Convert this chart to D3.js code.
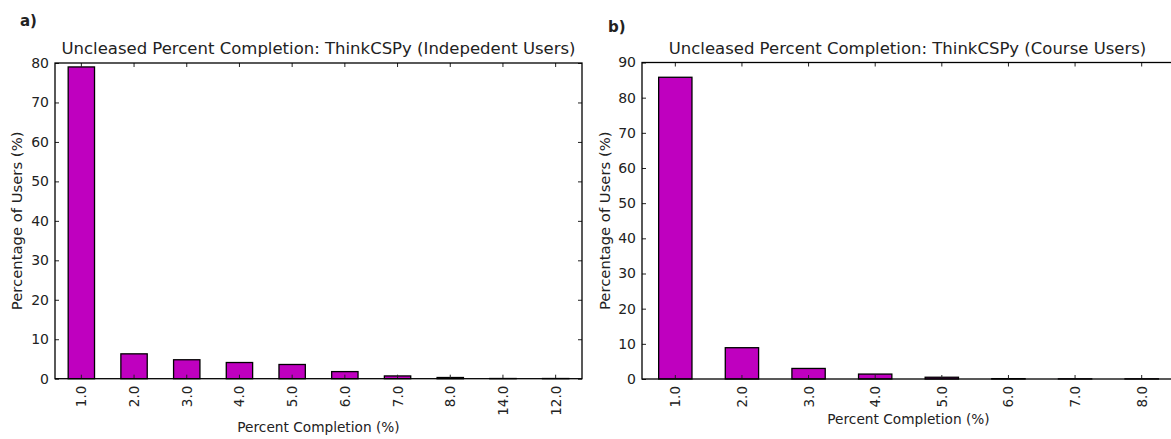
<!DOCTYPE html>
<html>
<head>
<meta charset="utf-8">
<script src="https://cdn.jsdelivr.net/npm/d3@7"></script>
<style>
  html, body { margin: 0; padding: 0; background: #fff; }
  svg { display: block; }
  text { font-family: "DejaVu Sans", sans-serif; fill: #222; }
</style>
</head>
<body>
<svg id="chart" width="1171" height="439"></svg>
<script>
// Independent users: share of users (%) per completion bucket
const indepCategories = ["1.0", "2.0", "3.0", "4.0", "5.0", "6.0", "7.0", "8.0", "14.0", "12.0"];
const indepValues = [79.0, 6.3, 4.8, 4.1, 3.6, 1.8, 0.7, 0.3, 0.05, 0.05];
const indepYTicks = [0, 10, 20, 30, 40, 50, 60, 70, 80];

// Course users: share of users (%) per completion bucket
const courseCategories = ["1.0", "2.0", "3.0", "4.0", "5.0", "6.0", "7.0", "8.0"];
const courseValues = [85.8, 8.9, 3.0, 1.4, 0.5, 0.1, 0.05, 0.05];
const courseYTicks = [0, 10, 20, 30, 40, 50, 60, 70, 80, 90];

const titles = [
  "Uncleased Percent Completion: ThinkCSPy (Indepedent Users)",
  "Uncleased Percent Completion: ThinkCSPy (Course Users)"
];
const panelTags = ["a)", "b)"];
const xLabel = "Percent Completion (%)";
const yLabel = "Percentage of Users (%)";

const svg = d3.select("#chart");

const panels = [
  { tag: panelTags[0], title: titles[0], cats: indepCategories, vals: indepValues, ticks: indepYTicks,
    box: { left: 55, right: 582, top: 63, bottom: 378.7 }, tagPos: [20, 26], xLabelY: 432, yLabelX: 22, titleShift: 0 },
  { tag: panelTags[1], title: titles[1], cats: courseCategories, vals: courseValues, ticks: courseYTicks,
    box: { left: 642, right: 1175, top: 62.5, bottom: 379 }, tagPos: [608, 32], xLabelY: 424, yLabelX: 610, titleShift: -1 }
];

const barColor = "#bf00bf";
const tickLen = 4;

panels.forEach(p => {
  const b = p.box;
  const g = svg.append("g");

  const x = d3.scaleBand()
    .domain(p.cats)
    .range([b.left, b.right])
    .paddingInner(0.5)
    .paddingOuter(0.25);

  const y = d3.scaleLinear()
    .domain([0, d3.max(p.ticks)])
    .range([b.bottom, b.top]);

  // bars
  g.selectAll("rect.bar")
    .data(p.vals)
    .join("rect")
    .attr("class", "bar")
    .attr("x", (d, i) => x(p.cats[i]))
    .attr("width", x.bandwidth())
    .attr("y", d => y(d))
    .attr("height", d => y(0) - y(d))
    .attr("fill", barColor)
    .attr("stroke", "#000")
    .attr("stroke-width", 1.3);

  // bottom axis with inward ticks, rotated labels
  const xAxis = d3.axisBottom(x).tickSize(-tickLen);
  const gx = g.append("g").attr("transform", `translate(0,${b.bottom})`).call(xAxis);
  gx.select(".domain").remove();
  gx.selectAll(".tick line").attr("stroke", "#222");
  gx.selectAll(".tick text")
    .attr("font-size", 13.5)
    .attr("font-family", "DejaVu Sans")
    .attr("fill", "#222")
    .attr("text-anchor", "end")
    .attr("dy", null)
    .attr("y", null)
    .attr("dominant-baseline", "central")
    .attr("transform", "translate(0,7) rotate(-90)");

  // top axis ticks (no labels)
  const gxt = g.append("g").attr("transform", `translate(0,${b.top})`)
    .call(d3.axisTop(x).tickSize(-tickLen).tickFormat(""));
  gxt.select(".domain").remove();
  gxt.selectAll(".tick line").attr("stroke", "#222");

  // left axis
  const gy = g.append("g").attr("transform", `translate(${b.left},0)`)
    .call(d3.axisLeft(y).tickValues(p.ticks).tickSize(-tickLen).tickPadding(6).tickFormat(d3.format("d")));
  gy.select(".domain").remove();
  gy.selectAll(".tick line").attr("stroke", "#222");
  gy.selectAll(".tick text").attr("font-size", 14).attr("font-family", "DejaVu Sans").attr("fill", "#222");

  // right axis ticks (no labels)
  const gyr = g.append("g").attr("transform", `translate(${b.right},0)`)
    .call(d3.axisRight(y).tickValues(p.ticks).tickSize(-tickLen).tickFormat(""));
  gyr.select(".domain").remove();
  gyr.selectAll(".tick line").attr("stroke", "#222");

  // frame
  g.append("rect")
    .attr("x", b.left).attr("y", b.top)
    .attr("width", b.right - b.left).attr("height", b.bottom - b.top)
    .attr("fill", "none").attr("stroke", "#000").attr("stroke-width", 1.3);

  // title
  g.append("text")
    .attr("x", (b.left + b.right) / 2 + p.titleShift)
    .attr("y", b.top - 9)
    .attr("text-anchor", "middle")
    .attr("font-size", 16.5)
    .text(p.title);

  // axis labels
  g.append("text")
    .attr("x", (b.left + b.right) / 2)
    .attr("y", p.xLabelY)
    .attr("text-anchor", "middle")
    .attr("font-size", 13.7)
    .text(xLabel);

  g.append("text")
    .attr("transform", `translate(${p.yLabelX},${(b.top + b.bottom) / 2}) rotate(-90)`)
    .attr("text-anchor", "middle")
    .attr("font-size", 14.8)
    .text(yLabel);

  // panel tag
  g.append("text")
    .attr("x", p.tagPos[0]).attr("y", p.tagPos[1])
    .attr("font-family", "Liberation Sans, Arial, sans-serif")
    .attr("font-weight", "bold")
    .attr("font-size", 15)
    .attr("fill", "#000")
    .text(p.tag);
});
</script>
</body>
</html>
